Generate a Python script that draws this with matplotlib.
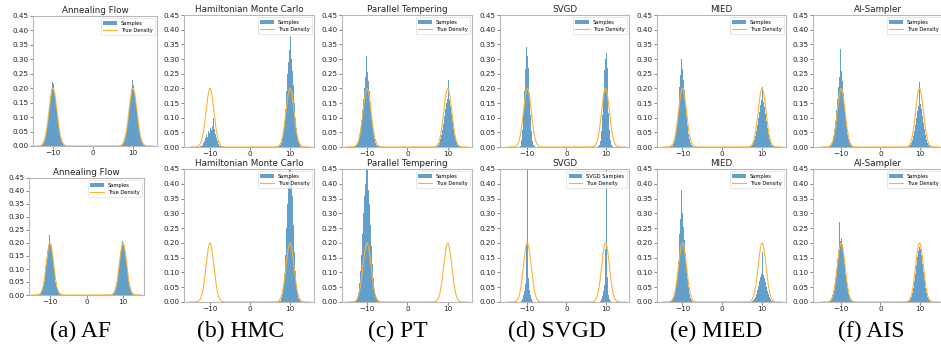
import numpy as np
import matplotlib
matplotlib.use("Agg")
import matplotlib.pyplot as plt

W, H = 941, 352

methods = ["Annealing Flow", "Hamiltonian Monte Carlo", "Parallel Tempering",
           "SVGD", "MIED", "AI-Sampler"]
captions = ["(a) AF", "(b) HMC", "(c) PT", "(d) SVGD", "(e) MIED", "(f) AIS"]
sample_labels = [["Samples"] * 6,
                 ["Samples", "Samples", "Samples", "SVGD Samples", "Samples", "Samples"]]

# target: equal mixture of N(-10, 1) and N(10, 1)
mix_means = [-10.0, 10.0]
mix_weights = [0.5, 0.5]
mix_std = 1.0

# histogram heights, 24 bins of width 0.25 over [-13, -7] and [7, 13]
left_peak = [
    [  # top row
        [0.002, 0.006, 0.012, 0.022, 0.036, 0.055, 0.080, 0.110, 0.142, 0.172, 0.196, 0.222,
         0.214, 0.192, 0.168, 0.138, 0.106, 0.078, 0.053, 0.034, 0.020, 0.011, 0.005, 0.002],
        [0.000, 0.000, 0.002, 0.004, 0.008, 0.014, 0.022, 0.030, 0.042, 0.035, 0.055, 0.048,
         0.066, 0.058, 0.072, 0.100, 0.060, 0.045, 0.030, 0.020, 0.010, 0.005, 0.002, 0.000],
        [0.002, 0.006, 0.013, 0.024, 0.040, 0.062, 0.092, 0.125, 0.165, 0.200, 0.240, 0.310,
         0.255, 0.225, 0.190, 0.150, 0.110, 0.075, 0.048, 0.028, 0.015, 0.008, 0.004, 0.002],
        [0.000, 0.000, 0.000, 0.000, 0.002, 0.008, 0.024, 0.058, 0.115, 0.190, 0.265, 0.340,
         0.310, 0.270, 0.185, 0.110, 0.055, 0.022, 0.008, 0.002, 0.000, 0.000, 0.000, 0.000],
        [0.002, 0.005, 0.011, 0.022, 0.038, 0.060, 0.090, 0.125, 0.165, 0.205, 0.245, 0.300,
         0.265, 0.230, 0.195, 0.150, 0.110, 0.075, 0.045, 0.026, 0.014, 0.007, 0.003, 0.001],
        [0.002, 0.005, 0.012, 0.022, 0.038, 0.060, 0.090, 0.125, 0.165, 0.205, 0.240, 0.335,
         0.260, 0.225, 0.185, 0.145, 0.105, 0.072, 0.045, 0.026, 0.014, 0.007, 0.003, 0.001],
    ],
    [  # bottom row
        [0.003, 0.006, 0.013, 0.022, 0.036, 0.055, 0.080, 0.110, 0.140, 0.170, 0.193, 0.232,
         0.200, 0.184, 0.160, 0.130, 0.100, 0.072, 0.050, 0.032, 0.019, 0.010, 0.005, 0.002],
        [0.0] * 24,
        [0.002, 0.006, 0.016, 0.035, 0.065, 0.105, 0.160, 0.230, 0.300, 0.360, 0.400, 0.520,
         0.470, 0.380, 0.330, 0.260, 0.190, 0.130, 0.080, 0.045, 0.024, 0.012, 0.006, 0.003],
        [0.000, 0.000, 0.000, 0.000, 0.000, 0.000, 0.002, 0.010, 0.022, 0.038, 0.060, 0.200,
         0.600, 0.080, 0.040, 0.022, 0.010, 0.002, 0.000, 0.000, 0.000, 0.000, 0.000, 0.000],
        [0.002, 0.006, 0.013, 0.025, 0.043, 0.068, 0.100, 0.140, 0.185, 0.230, 0.280, 0.380,
         0.300, 0.255, 0.210, 0.165, 0.120, 0.080, 0.050, 0.028, 0.015, 0.007, 0.003, 0.001],
        [0.002, 0.005, 0.012, 0.022, 0.037, 0.056, 0.082, 0.112, 0.145, 0.175, 0.270, 0.205,
         0.215, 0.190, 0.162, 0.130, 0.098, 0.070, 0.046, 0.028, 0.016, 0.008, 0.004, 0.002],
    ],
]
right_peak = [
    [
        [0.002, 0.005, 0.011, 0.026, 0.040, 0.056, 0.080, 0.108, 0.140, 0.170, 0.196, 0.228,
         0.210, 0.190, 0.166, 0.135, 0.104, 0.076, 0.050, 0.032, 0.018, 0.010, 0.005, 0.002],
        [0.000, 0.002, 0.006, 0.014, 0.030, 0.052, 0.090, 0.130, 0.190, 0.250, 0.290, 0.330,
         0.380, 0.300, 0.260, 0.210, 0.150, 0.100, 0.065, 0.040, 0.022, 0.010, 0.004, 0.001],
        [0.001, 0.004, 0.008, 0.015, 0.026, 0.040, 0.058, 0.080, 0.105, 0.128, 0.150, 0.165,
         0.230, 0.160, 0.140, 0.115, 0.088, 0.064, 0.042, 0.027, 0.016, 0.008, 0.004, 0.002],
        [0.000, 0.000, 0.000, 0.000, 0.002, 0.007, 0.022, 0.055, 0.110, 0.185, 0.262, 0.300,
         0.320, 0.268, 0.190, 0.115, 0.058, 0.024, 0.008, 0.002, 0.000, 0.000, 0.000, 0.000],
        [0.001, 0.003, 0.007, 0.013, 0.023, 0.036, 0.054, 0.075, 0.098, 0.120, 0.142, 0.160,
         0.205, 0.155, 0.135, 0.112, 0.088, 0.064, 0.043, 0.027, 0.016, 0.008, 0.004, 0.002],
        [0.001, 0.003, 0.007, 0.013, 0.023, 0.036, 0.054, 0.075, 0.098, 0.122, 0.140, 0.220,
         0.160, 0.145, 0.128, 0.106, 0.082, 0.060, 0.040, 0.025, 0.014, 0.007, 0.003, 0.001],
    ],
    [
        [0.002, 0.005, 0.011, 0.020, 0.034, 0.052, 0.076, 0.104, 0.134, 0.165, 0.190, 0.208,
         0.200, 0.185, 0.163, 0.134, 0.105, 0.078, 0.054, 0.036, 0.022, 0.012, 0.006, 0.003],
        [0.001, 0.002, 0.005, 0.012, 0.028, 0.055, 0.095, 0.160, 0.250, 0.330, 0.420, 0.470,
         0.500, 0.440, 0.360, 0.260, 0.170, 0.105, 0.060, 0.030, 0.015, 0.006, 0.003, 0.001],
        [0.0] * 24,
        [0.000, 0.000, 0.000, 0.000, 0.000, 0.000, 0.002, 0.010, 0.020, 0.036, 0.058, 0.180,
         0.600, 0.085, 0.042, 0.022, 0.010, 0.003, 0.000, 0.000, 0.000, 0.000, 0.000, 0.000],
        [0.000, 0.001, 0.003, 0.006, 0.011, 0.018, 0.028, 0.040, 0.055, 0.070, 0.085, 0.095,
         0.170, 0.090, 0.080, 0.066, 0.052, 0.038, 0.026, 0.016, 0.009, 0.004, 0.002, 0.001],
        [0.002, 0.004, 0.010, 0.018, 0.030, 0.047, 0.070, 0.096, 0.125, 0.152, 0.172, 0.185,
         0.205, 0.178, 0.158, 0.130, 0.100, 0.073, 0.049, 0.031, 0.018, 0.009, 0.004, 0.002],
    ],
]

x_limits = [[(-15.0, 16.0), (-16.5, 16.0), (-16.2, 16.0), (-17.0, 16.0), (-16.4, 16.0), (-17.2, 16.0)],
            [(-15.75, 15.75), (-16.5, 16.0), (-16.2, 16.0), (-17.0, 16.0), (-16.4, 16.0), (-17.2, 16.0)]]

# axes boxes in pixels: left, top, width, height
boxes = [[(33, 16, 124, 130), (184, 15, 130, 132), (342, 15, 130, 132),
          (500, 15, 129, 132), (657, 15, 129, 132), (813, 15, 130, 132)],
         [(29, 178, 115, 117), (184, 169, 130, 133), (342, 169, 130, 133),
          (500, 169, 129, 133), (657, 169, 129, 133), (813, 169, 130, 133)]]
caption_x = [81, 241, 398, 557, 716, 871]

blue = "#1f77b4"
orange = "#fdb236"
edge_gray = "#b8b8b8"

left_edges = np.linspace(-13, -7, 25)
right_edges = np.linspace(7, 13, 25)

grid = np.linspace(-15, 15, 600)
density = sum(w * np.exp(-0.5 * ((grid - m) / mix_std) ** 2) / (mix_std * np.sqrt(2 * np.pi))
              for m, w in zip(mix_means, mix_weights))

fig = plt.figure(figsize=(W / 100, H / 100), dpi=100)

for r in range(2):
    for c in range(6):
        lx, ty, bw, bh = boxes[r][c]
        ax = fig.add_axes([lx / W, 1 - (ty + bh) / H, bw / W, bh / H])
        ax.stairs(left_peak[r][c], left_edges, fill=True, color=blue, alpha=0.7,
                  linewidth=0, label=sample_labels[r][c])
        ax.stairs(right_peak[r][c], right_edges, fill=True, color=blue, alpha=0.7,
                  linewidth=0)
        ax.plot(grid, density, color=orange, lw=0.8, label="True Density")
        ax.set_xlim(*x_limits[r][c])
        ax.set_ylim(0, 0.45)
        ax.set_yticks(np.arange(0, 0.451, 0.05))
        ax.set_xticks([-10, 0, 10])
        ax.tick_params(labelsize=5.2, length=2, width=0.5, pad=1, color="#555555",
                       labelcolor="#222222")
        for s in ax.spines.values():
            s.set_color(edge_gray)
            s.set_linewidth(0.8)
        ax.set_title(methods[c], fontsize=6.3, pad=2, color="#222222")
        leg = ax.legend(loc="upper right", fontsize=3.7, frameon=True,
                        handlelength=2.6, borderpad=0.5, labelspacing=0.4,
                        borderaxespad=0.4)
        leg.get_frame().set_linewidth(0.4)
        leg.get_frame().set_edgecolor("#cccccc")

for x, text in zip(caption_x, captions):
    fig.text(x / W, 1 - 331 / H, text, ha="center", va="center",
             fontsize=17, family="Liberation Serif")

fig.savefig("out.png", dpi=100)
